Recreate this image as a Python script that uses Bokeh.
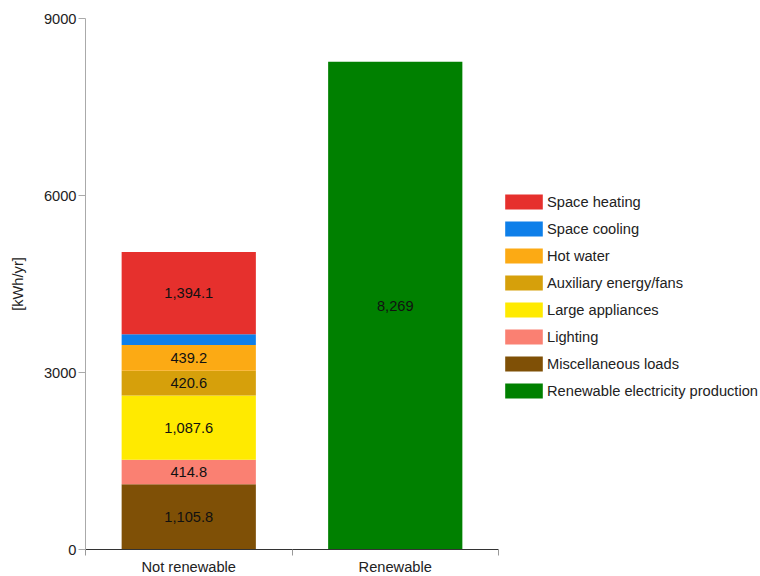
from bokeh.plotting import figure
from bokeh.models import ColumnDataSource, Range1d, FixedTicker, Legend, LegendItem
from bokeh.embed import file_html
from bokeh.resources import INLINE
from bokeh.core.properties import value

# ---- data ----
categories = ["Not renewable", "Renewable"]
end_uses = ["Miscellaneous loads", "Lighting", "Large appliances",
            "Auxiliary energy/fans", "Hot water", "Space cooling", "Space heating"]
end_use_values = [1105.8, 414.8, 1087.6, 420.6, 439.2, 180.0, 1394.1]
end_use_colors = ["#7f5006", "#fa8072", "#ffea00", "#d6a00b", "#fcaa14", "#0e7fe9", "#e6302d"]
end_use_labeled = [True, True, True, True, True, False, True]
renewable_name = "Renewable electricity production"
renewable_value = 8269.0
renewable_color = "#008000"
y_ticks = [0, 3000, 6000, 9000]

FONT = "Liberation Sans"
FS = "11pt"

# layout: the bar area is 413px wide, the frame extends to the right edge to host the legend
PLOT_W = 413
FRAME_W = 675
n = len(categories)
centers = [i + 0.5 for i in range(n)]
bounds = [float(i) for i in range(n + 1)]

p = figure(frame_width=FRAME_W, frame_height=531, x_range=Range1d(0, n * FRAME_W / PLOT_W),
           y_range=Range1d(0, 9000), output_backend="svg", toolbar_location=None,
           min_border_left=85, min_border_top=18, min_border_bottom=27,
           min_border_right=0)
p.outline_line_color = None
p.xgrid.visible = False
p.ygrid.visible = False
p.background_fill_color = "white"

renderers = {}
bottom = 0.0
for name, v, c, lab in zip(end_uses, end_use_values, end_use_colors, end_use_labeled):
    src = ColumnDataSource(dict(x=[centers[0]], b=[bottom], t=[bottom + v],
                                m=[bottom + v / 2], txt=[f"{v:,.1f}"]))
    r = p.vbar(x="x", bottom="b", top="t", width=0.65, source=src,
               fill_color=c, line_color=None)
    renderers[name] = r
    if lab:
        p.text(x="x", y="m", text="txt", source=src, text_align="center",
               text_baseline="middle", text_font=value(FONT),
               text_font_size=value(FS), text_color="#111111")
    bottom += v

rsrc = ColumnDataSource(dict(x=[centers[1]], b=[0.0], t=[renewable_value],
                             m=[renewable_value / 2], txt=[f"{renewable_value:,.0f}"]))
rr = p.vbar(x="x", bottom="b", top="t", width=0.65, source=rsrc,
            fill_color=renewable_color, line_color=None)
p.text(x="x", y="m", text="txt", source=rsrc, text_align="center",
       text_baseline="middle", text_font=value(FONT), text_font_size=value(FS),
       text_color="#111111")

# ---- axes ----
yax = p.yaxis[0]
yax.ticker = FixedTicker(ticks=y_ticks, minor_ticks=[])
yax.axis_line_color = "#aaaaaa"
yax.major_tick_line_color = "#aaaaaa"
yax.major_tick_out = 7
yax.major_tick_in = 0
yax.minor_tick_line_color = None
yax.major_label_text_font = FONT
yax.major_label_text_font_size = FS
yax.major_label_text_color = "#222222"
yax.major_label_standoff = 2
yax.axis_label = "[kWh/yr]"
yax.axis_label_text_font = FONT
yax.axis_label_text_font_size = FS
yax.axis_label_text_font_style = "normal"
yax.axis_label_text_color = "#222222"
yax.axis_label_standoff = 15

xax = p.xaxis[0]
xax.bounds = (0, n)
xax.ticker = FixedTicker(ticks=centers, minor_ticks=bounds)
xax.major_label_overrides = {c: nm for c, nm in zip(centers, categories)}
xax.axis_line_color = "#333333"
xax.major_tick_line_color = None
xax.major_tick_out = 0
xax.major_tick_in = 0
xax.minor_tick_line_color = "#999999"
xax.minor_tick_out = 6
xax.minor_tick_in = 0
xax.major_label_text_font = FONT
xax.major_label_text_font_size = FS
xax.major_label_text_color = "#222222"
xax.major_label_standoff = 3

# ---- legend ----
legend_order = ["Space heating", "Space cooling", "Hot water", "Auxiliary energy/fans",
                "Large appliances", "Lighting", "Miscellaneous loads"]
items = [LegendItem(label=nm, renderers=[renderers[nm]]) for nm in legend_order]
items.append(LegendItem(label=renewable_name, renderers=[rr]))
legend = Legend(items=items, location=(PLOT_W + 2, 149), glyph_width=47, glyph_height=19,
                label_standoff=0, spacing=8, padding=0, margin=0,
                label_height=15, border_line_alpha=0, background_fill_alpha=0,
                label_text_font=FONT, label_text_font_size=FS,
                label_text_color="#222222")
p.add_layout(legend, "center")

open("out.html", "w").write(file_html(p, INLINE))
